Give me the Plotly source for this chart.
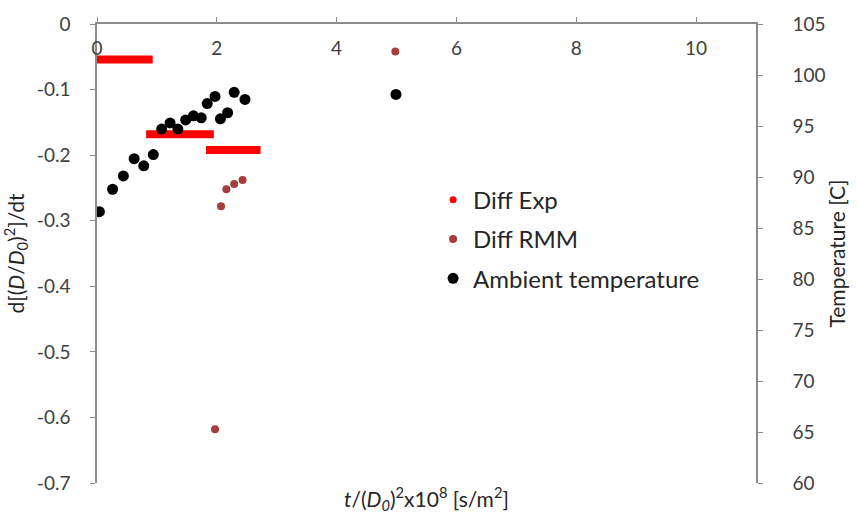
import plotly.graph_objects as go

# Diff Exp: horizontal segments (start x, end x, value)
exp_x_start = [-0.08, 0.82, 1.82]
exp_x_end = [0.93, 1.95, 2.73]
exp_y = [-0.054, -0.168, -0.192]

# Diff RMM points
rmm_x = [1.97, 2.07, 2.16, 2.29, 2.43, 4.98]
rmm_y = [-0.618, -0.278, -0.252, -0.244, -0.238, -0.042]

# Ambient temperature (right axis)
amb_x = [0.04, 0.26, 0.44, 0.62, 0.78, 0.94, 1.08, 1.22, 1.35, 1.48, 1.61, 1.74,
         1.84, 1.97, 2.06, 2.18, 2.29, 2.47, 4.99]
amb_t = [86.6, 88.8, 90.1, 91.8, 91.1, 92.2, 94.7, 95.3, 94.7, 95.6, 96.0, 95.8,
         97.2, 97.9, 95.7, 96.3, 98.3, 97.6, 98.1]

x_ticks = [0, 2, 4, 6, 8, 10]
y_ticks = [0, -0.1, -0.2, -0.3, -0.4, -0.5, -0.6, -0.7]
y_ticktext = ["0", "-0.1", "-0.2", "-0.3", "-0.4", "-0.5", "-0.6", "-0.7"]
t_ticks = [60, 65, 70, 75, 80, 85, 90, 95, 100, 105]

RED = "#ff0000"
BROWN = "#a63c3c"
BLACK = "#000000"
GRID = "#8c8c8c"
TXT = "#404040"
FONT = "Lato"

seg_x, seg_y = [], []
for xs, xe, yv in zip(exp_x_start, exp_x_end, exp_y):
    seg_x += [xs, xe, None]
    seg_y += [yv, yv, None]

fig = go.Figure()
fig.add_trace(go.Scatter(x=seg_x, y=seg_y, mode="lines",
                         line=dict(color=RED, width=8), showlegend=False,
                         cliponaxis=False, hoverinfo="skip"))
fig.add_trace(go.Scatter(x=[None], y=[None], mode="markers", name="Diff Exp",
                         marker=dict(color=RED, size=7), legendgroup="a"))
fig.add_trace(go.Scatter(x=rmm_x, y=rmm_y, mode="markers", name="Diff RMM",
                         marker=dict(color=BROWN, size=8), legendgroup="b"))
fig.add_trace(go.Scatter(x=amb_x, y=amb_t, mode="markers", name="Ambient temperature",
                         marker=dict(color=BLACK, size=11), yaxis="y2", legendgroup="c"))

fig.update_layout(
    width=858, height=516,
    margin=dict(l=97, r=101, t=16, b=33),
    paper_bgcolor="white", plot_bgcolor="white",
    font=dict(family=FONT, size=19, color=TXT),
    xaxis=dict(range=[0, 11], tickvals=x_ticks, side="top", ticks="outside",
               ticklen=5, tickcolor=GRID, ticklabelstandoff=-45,
               showline=True, linecolor=GRID, linewidth=1.5, showgrid=False,
               zeroline=False),
    yaxis=dict(range=[-0.7, 0], tickvals=y_ticks, ticktext=y_ticktext,
               ticks="outside", ticklen=5, tickcolor=GRID, showline=True,
               linecolor=GRID, linewidth=1.5, showgrid=False, zeroline=False,
               ticklabelstandoff=16,
               title=dict(text="d[(<i>D</i>/<i>D</i><sub>0</sub>)<sup>2</sup>]/dt",
                          font=dict(size=21, color="#262626"), standoff=8)),
    yaxis2=dict(range=[60, 105], tickvals=t_ticks, overlaying="y", side="right",
                ticks="outside", ticklen=5, tickcolor=GRID, showline=True,
                linecolor=GRID, linewidth=1.5, showgrid=False, zeroline=False,
                ticklabelstandoff=26,
                title=dict(text="Temperature [C]", font=dict(size=21, color="#262626"),
                           standoff=6)),
    legend=dict(x=0.51, y=0.665, xanchor="left", yanchor="top",
                font=dict(size=24, color="#262626"), tracegroupgap=5,
                bgcolor="rgba(0,0,0,0)", itemwidth=30),
    showlegend=True,
)

fig.add_annotation(
    text="<i>t</i>/(<i>D<sub>0</sub></i>)<sup>2</sup>x10<sup>8</sup> [s/m<sup>2</sup>]",
    xref="paper", yref="paper", x=0.5, y=0, yshift=-15, showarrow=False,
    font=dict(size=21, color="#262626"), xanchor="center", yanchor="middle")

fig.write_html("out.html")
